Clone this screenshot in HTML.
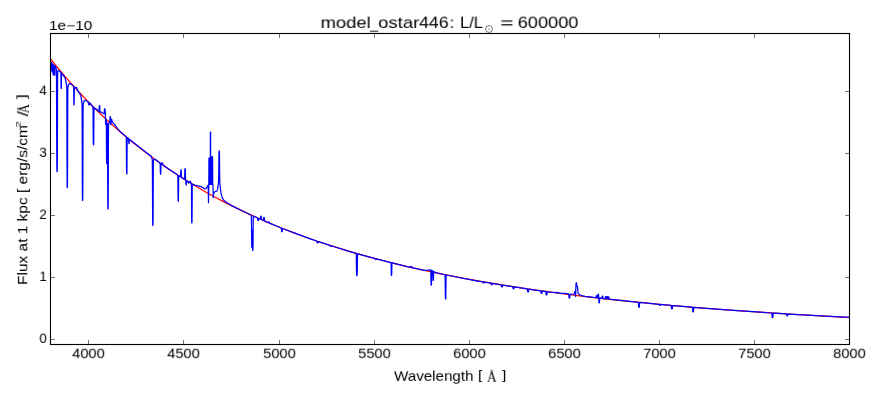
<!DOCTYPE html>
<html lang="en"><head><meta charset="utf-8"><title>model_ostar446</title>
<style>
html,body{margin:0;padding:0;background:#fff}
#fig{position:relative;width:880px;height:400px;overflow:hidden;background:#fff;color:#000;font-family:"Liberation Sans",sans-serif}
#fig svg{position:absolute;left:0;top:0}
.t{position:absolute;white-space:nowrap;transform-origin:0 0;margin:0;padding:0;will-change:transform}
.s{font-family:"Liberation Serif",serif}
</style></head><body>
<div id="fig">
<svg width="880" height="400" viewBox="0 0 880 400">
<svg x="50.5" y="33.5" width="799.0" height="311.0" viewBox="50.5 33.5 799.0 311.0" overflow="hidden">
<g fill="none" stroke-linejoin="round" stroke-linecap="butt">
<path d="M50.50 58.82 L56.40 66.13 L62.40 73.32 L68.50 80.40 L74.75 87.41 L81.10 94.29 L87.60 101.09 L94.25 107.81 L101.05 114.44 L108.00 120.98 L115.10 127.41 L122.35 133.74 L129.75 139.95 L137.35 146.10 L145.10 152.12 L153.05 158.06 L161.20 163.90 L169.55 169.65 L178.10 175.29 L186.90 180.86 L195.90 186.31 L205.15 191.67 L214.65 196.93 L224.40 202.09 L234.45 207.17 L244.80 212.15 L255.45 217.03 L266.40 221.81 L277.70 226.50 L289.35 231.10 L301.35 235.58 L313.75 239.98 L326.55 244.27 L339.80 248.47 L353.50 252.57 L367.70 256.58 L382.45 260.50 L397.75 264.32 L413.65 268.05 L430.15 271.67 L447.35 275.21 L465.25 278.64 L483.95 281.98 L503.50 285.23 L523.95 288.39 L545.35 291.44 L567.80 294.40 L591.40 297.27 L616.25 300.04 L642.45 302.71 L670.10 305.29 L699.40 307.77 L730.50 310.16 L763.55 312.45 L798.80 314.65 L836.55 316.76 L849.50 317.42" stroke="#ff0000" stroke-width="1.25"/>
<path d="M50.50 61.60 L50.55 62.48 L50.60 64.67 L50.65 67.35 L50.70 69.50 L50.75 70.31 L50.80 69.52 L50.85 67.44 L50.90 64.90 L50.95 62.88 L51.00 62.14 L51.05 62.98 L51.10 65.05 L51.15 67.58 L51.20 69.61 L51.25 70.38 L51.30 69.63 L51.35 67.68 L51.40 65.28 L51.45 63.38 L51.50 62.69 L51.55 63.48 L51.60 65.44 L51.65 67.82 L51.70 69.73 L51.75 70.46 L51.80 69.76 L51.85 67.92 L51.90 65.68 L51.95 63.89 L52.00 63.25 L52.05 64.14 L52.10 66.35 L52.15 69.05 L52.20 71.22 L52.25 72.04 L52.30 71.25 L52.35 69.15 L52.40 66.59 L52.45 64.55 L52.50 63.81 L52.55 64.66 L52.60 66.75 L52.65 69.31 L52.70 71.36 L52.75 72.14 L52.80 71.38 L52.85 69.41 L52.90 67.00 L52.95 65.08 L53.00 64.38 L53.05 65.42 L53.10 68.03 L53.15 71.21 L53.20 73.76 L53.25 74.74 L53.30 73.79 L53.35 71.31 L53.40 68.27 L53.45 65.84 L53.50 64.96 L53.55 65.95 L53.60 68.44 L53.65 71.48 L53.70 73.92 L53.75 74.85 L53.80 73.95 L53.85 71.59 L53.90 68.69 L53.95 66.38 L54.00 65.54 L54.05 66.49 L54.10 68.86 L54.15 71.76 L54.20 74.08 L54.25 74.97 L54.30 74.11 L54.35 71.87 L54.40 69.12 L54.45 66.93 L54.50 66.14 L54.55 67.04 L54.60 69.30 L54.65 72.05 L54.70 74.26 L54.75 75.11 L54.80 74.30 L54.85 72.18 L54.90 69.58 L54.95 65.53 L55.60 66.68 L55.95 67.51 L56.20 68.35 L56.30 68.81 L56.35 69.24 L56.40 70.36 L56.45 73.27 L56.50 79.57 L56.55 90.40 L56.60 105.34 L56.65 122.28 L56.70 138.44 L56.75 151.64 L56.80 160.98 L56.85 166.70 L56.90 169.70 L56.95 171.02 L57.00 171.51 L57.05 171.71 L57.10 171.80 L57.15 171.59 L57.20 170.53 L57.25 167.76 L57.30 162.23 L57.35 153.06 L57.40 139.99 L57.45 123.95 L57.50 107.11 L57.55 92.27 L57.60 81.52 L57.65 75.29 L57.70 72.46 L57.75 71.43 L57.80 71.08 L57.95 70.69 L58.20 70.43 L58.55 70.44 L59.20 70.90 L60.80 72.50 L60.85 72.59 L60.90 73.20 L60.95 75.87 L61.00 80.88 L61.05 85.48 L61.10 87.80 L61.15 88.43 L61.25 88.54 L61.30 88.01 L61.35 85.80 L61.40 81.31 L61.45 76.41 L61.50 73.84 L61.55 73.34 L62.80 74.73 L63.90 76.18 L64.60 77.34 L65.10 78.41 L65.45 79.38 L65.75 80.45 L66.00 81.56 L66.25 82.95 L66.50 84.60 L66.65 85.68 L66.70 86.14 L66.75 87.20 L66.80 90.46 L66.85 98.56 L66.90 113.14 L66.95 132.56 L67.00 152.41 L67.05 168.50 L67.10 179.05 L67.15 184.59 L67.20 186.81 L67.25 187.42 L67.30 187.53 L67.35 187.54 L67.40 187.06 L67.45 184.96 L67.50 179.54 L67.55 169.12 L67.60 153.15 L67.65 133.42 L67.70 114.13 L67.75 99.66 L67.80 91.69 L67.85 88.56 L67.90 87.62 L67.95 87.28 L68.25 85.90 L68.50 84.99 L68.75 84.35 L69.05 83.88 L69.45 83.59 L69.95 83.58 L70.70 83.91 L71.90 84.83 L73.55 86.42 L73.60 86.50 L73.65 86.97 L73.70 89.03 L73.75 93.50 L73.80 98.78 L73.85 102.55 L73.90 104.26 L73.95 104.72 L74.05 104.83 L74.10 104.47 L74.15 102.87 L74.20 99.19 L74.25 94.02 L74.30 89.65 L74.35 87.70 L74.40 87.33 L75.10 87.90 L75.45 87.95 L75.80 87.70 L76.20 87.31 L76.40 87.31 L76.60 87.54 L76.85 88.13 L77.45 90.05 L77.80 90.89 L78.30 91.69 L79.50 93.37 L80.15 94.53 L80.60 95.60 L80.90 96.53 L81.15 97.53 L81.40 98.79 L81.60 100.06 L81.85 101.95 L81.95 102.80 L82.00 103.32 L82.05 104.41 L82.10 107.59 L82.15 115.37 L82.20 129.33 L82.25 147.87 L82.30 166.82 L82.35 182.19 L82.40 192.28 L82.45 197.60 L82.50 199.76 L82.55 200.36 L82.60 200.48 L82.65 200.49 L82.70 200.02 L82.75 198.00 L82.80 192.81 L82.85 182.86 L82.90 167.62 L82.95 148.80 L83.00 130.39 L83.05 116.57 L83.10 108.92 L83.15 105.87 L83.20 104.91 L83.25 104.52 L83.50 103.13 L83.70 102.25 L83.95 101.45 L84.20 100.94 L84.55 100.54 L85.00 100.38 L85.70 100.49 L86.75 101.03 L88.10 102.05 L88.25 102.33 L88.35 102.73 L88.55 103.87 L88.65 104.29 L88.80 104.62 L89.20 104.98 L89.35 104.92 L89.45 104.68 L89.75 103.51 L89.90 103.12 L90.05 103.03 L90.45 103.41 L90.60 103.77 L90.80 104.43 L91.05 104.75 L92.85 106.50 L92.90 106.59 L92.95 106.91 L93.00 108.07 L93.05 111.08 L93.10 116.58 L93.15 123.93 L93.20 131.45 L93.25 137.55 L93.30 141.54 L93.35 143.63 L93.40 144.47 L93.45 144.70 L93.55 144.80 L93.60 144.66 L93.65 143.92 L93.70 141.93 L93.75 138.04 L93.80 132.03 L93.85 124.60 L93.90 117.35 L93.95 111.95 L94.00 109.03 L94.05 107.97 L94.10 107.75 L95.30 108.66 L96.75 109.31 L97.35 109.88 L98.50 111.32 L98.95 111.71 L99.00 111.71 L99.05 111.60 L99.10 111.13 L99.15 110.13 L99.25 107.40 L99.30 106.42 L99.35 105.89 L99.40 105.68 L99.55 105.68 L99.60 105.74 L99.65 105.96 L99.70 106.52 L99.75 107.53 L99.85 110.32 L99.90 111.35 L99.95 111.85 L100.00 112.00 L101.35 112.07 L102.00 112.39 L103.05 113.24 L103.85 113.60 L104.05 113.78 L104.10 113.78 L104.15 113.68 L104.20 113.43 L104.25 113.00 L104.30 112.39 L104.45 110.13 L104.50 109.53 L104.55 109.10 L104.60 108.85 L104.65 108.74 L104.70 108.76 L104.85 109.16 L105.05 109.86 L105.15 110.41 L105.20 110.83 L105.25 111.39 L105.30 112.12 L105.35 113.02 L105.40 114.24 L105.45 116.30 L105.50 119.20 L105.55 121.80 L105.60 123.33 L105.65 124.01 L105.70 124.32 L105.75 124.50 L105.80 124.42 L105.85 123.66 L105.90 122.02 L105.95 120.22 L106.00 119.31 L106.05 119.20 L106.20 119.51 L106.25 119.78 L106.30 120.89 L106.35 124.37 L106.40 131.42 L106.45 141.07 L106.50 150.50 L106.55 157.40 L106.60 161.25 L106.65 162.86 L106.70 163.35 L106.80 163.65 L106.85 163.47 L106.90 162.17 L106.95 158.63 L107.00 152.04 L107.05 142.94 L107.10 133.63 L107.15 126.91 L107.20 123.79 L107.25 123.04 L107.30 123.13 L107.35 123.40 L107.40 123.77 L107.45 124.65 L107.50 127.38 L107.55 134.19 L107.60 146.46 L107.65 162.79 L107.70 179.50 L107.75 193.05 L107.80 201.92 L107.85 206.59 L107.90 208.47 L107.95 208.97 L108.00 209.05 L108.05 209.02 L108.10 208.58 L108.15 206.76 L108.20 202.15 L108.25 193.33 L108.30 179.84 L108.35 163.20 L108.40 146.92 L108.45 134.71 L108.50 127.96 L108.55 125.28 L108.60 124.46 L108.65 124.15 L108.90 123.19 L109.15 122.52 L109.45 122.05 L109.75 121.75 L109.80 121.58 L109.85 121.16 L109.90 120.41 L110.00 118.42 L110.05 117.60 L110.10 117.07 L110.15 116.79 L110.20 116.67 L110.40 116.66 L110.45 116.77 L110.50 117.05 L110.55 117.78 L110.60 119.48 L110.65 121.77 L110.70 123.52 L110.75 124.37 L110.80 124.62 L110.85 124.53 L110.90 124.06 L110.95 122.94 L111.00 121.32 L111.05 120.15 L111.10 119.72 L111.20 119.43 L111.35 119.34 L111.70 119.50 L111.80 119.68 L111.90 120.03 L112.00 120.61 L112.15 121.61 L112.25 122.07 L112.35 122.30 L113.55 123.35 L114.70 124.71 L117.70 128.81 L119.20 130.57 L121.10 132.42 L125.15 135.84 L126.20 136.70 L126.25 136.88 L126.30 137.79 L126.35 140.73 L126.40 146.76 L126.45 155.01 L126.50 163.08 L126.55 168.96 L126.60 172.21 L126.65 173.52 L126.70 173.86 L126.80 173.94 L126.85 173.68 L126.90 172.45 L126.95 169.28 L127.00 163.48 L127.05 155.50 L127.10 147.32 L127.15 141.38 L127.20 138.52 L127.25 137.69 L127.30 137.59 L128.55 138.60 L128.60 138.79 L128.65 139.33 L128.70 140.33 L128.75 141.53 L128.80 142.53 L128.85 143.13 L128.90 143.40 L129.05 143.57 L129.10 143.56 L129.15 143.37 L129.20 142.84 L129.25 141.93 L129.30 140.81 L129.35 139.89 L129.40 139.43 L129.45 139.32 L149.70 155.22 L150.65 156.05 L150.80 155.95 L150.95 155.75 L151.10 155.79 L151.40 156.23 L151.55 156.64 L151.85 157.99 L152.10 158.93 L152.20 159.41 L152.25 159.74 L152.30 160.46 L152.35 162.60 L152.40 167.85 L152.45 177.26 L152.50 189.75 L152.55 202.54 L152.60 212.92 L152.65 219.76 L152.70 223.39 L152.75 224.88 L152.80 225.32 L152.85 225.40 L152.90 225.39 L152.95 225.04 L153.00 223.62 L153.05 220.07 L153.10 213.30 L153.15 202.99 L153.20 190.29 L153.25 177.87 L153.30 168.54 L153.35 163.37 L153.40 161.30 L153.45 160.65 L153.55 160.23 L153.75 159.72 L154.00 159.37 L154.35 159.23 L154.95 159.38 L156.45 160.33 L160.05 162.94 L160.10 163.02 L160.15 163.31 L160.20 164.20 L160.25 165.99 L160.35 170.81 L160.40 172.56 L160.45 173.53 L160.50 173.94 L160.55 174.07 L160.65 174.14 L160.70 174.09 L160.75 173.75 L160.80 172.85 L160.85 171.17 L160.95 166.49 L161.00 164.78 L161.05 163.96 L161.10 163.74 L161.45 163.89 L161.55 163.79 L161.85 162.93 L162.00 162.79 L162.45 163.09 L162.60 163.35 L162.75 163.91 L162.95 164.79 L163.10 165.10 L169.70 169.71 L177.70 175.02 L177.75 175.15 L177.80 175.79 L177.85 177.86 L177.90 182.10 L177.95 187.91 L178.00 193.58 L178.05 197.72 L178.10 200.01 L178.15 200.93 L178.20 201.18 L178.30 201.24 L178.35 201.06 L178.40 200.20 L178.45 197.98 L178.50 193.90 L178.55 188.29 L178.60 182.55 L178.65 178.38 L178.70 176.37 L178.75 175.80 L178.80 175.73 L180.40 176.74 L180.45 176.72 L180.50 176.53 L180.55 175.99 L180.60 174.96 L180.70 172.16 L180.75 171.02 L180.80 170.29 L180.85 169.92 L180.90 169.80 L181.10 169.93 L181.15 170.11 L181.20 170.54 L181.25 171.34 L181.30 172.54 L181.40 175.47 L181.45 176.56 L181.50 177.17 L181.55 177.42 L181.75 177.60 L184.50 179.32 L184.55 179.27 L184.60 178.98 L184.65 178.14 L184.70 176.58 L184.80 172.33 L184.85 170.59 L184.90 169.47 L184.95 168.90 L185.00 168.70 L185.15 168.74 L185.20 168.83 L185.25 169.09 L185.30 169.72 L185.35 170.90 L185.40 172.70 L185.50 177.08 L185.55 178.70 L185.60 179.60 L185.65 179.96 L185.80 180.27 L185.85 180.65 L185.90 181.41 L186.00 183.46 L186.05 184.21 L186.10 184.63 L186.15 184.82 L186.35 184.94 L186.40 184.82 L186.45 184.46 L186.50 183.77 L186.60 181.85 L186.65 181.15 L186.70 180.82 L186.75 180.75 L187.90 181.47 L188.00 181.70 L188.20 182.43 L188.35 182.69 L188.70 182.88 L188.85 182.69 L189.05 182.23 L189.25 182.25 L189.65 182.43 L189.75 182.23 L189.95 181.44 L190.05 181.28 L190.35 181.40 L190.50 181.62 L190.60 182.01 L190.75 182.81 L190.85 183.12 L191.30 183.44 L191.35 183.62 L191.40 184.57 L191.45 187.69 L191.50 194.07 L191.55 202.83 L191.60 211.39 L191.65 217.63 L191.70 221.07 L191.75 222.45 L191.80 222.80 L191.90 222.85 L191.95 222.56 L192.00 221.23 L192.05 217.85 L192.10 211.66 L192.15 203.16 L192.20 194.45 L192.25 188.11 L192.30 185.05 L192.35 184.16 L192.40 184.03 L194.75 185.06 L196.85 185.66 L200.10 186.35 L201.60 186.93 L203.10 187.84 L204.55 188.81 L205.15 188.98 L205.65 188.86 L206.10 188.47 L206.60 187.72 L207.55 185.94 L207.90 185.49 L208.20 185.33 L208.50 202.75 L208.80 185.00 L208.95 158.00 L209.15 184.30 L209.35 158.00 L209.55 184.30 L209.75 158.00 L209.95 184.30 L210.15 158.00 L210.30 174.67 L210.35 164.91 L210.40 132.20 L210.60 132.20 L210.65 164.91 L210.70 180.36 L210.75 184.30 L210.95 156.80 L211.15 184.30 L211.35 156.80 L211.55 184.30 L211.75 156.80 L211.95 184.30 L212.15 156.80 L212.35 184.30 L212.55 156.80 L212.75 184.30 L213.00 186.00 L213.25 197.75 L213.55 193.49 L214.75 191.87 L215.25 191.46 L215.85 191.32 L216.50 191.25 L216.85 190.99 L217.10 190.58 L217.35 189.92 L217.55 189.18 L217.75 188.20 L217.95 186.97 L218.15 185.51 L218.45 182.99 L218.55 182.05 L218.60 181.34 L218.65 179.97 L218.70 177.42 L218.75 173.40 L218.80 168.27 L218.85 162.90 L218.90 158.23 L218.95 154.79 L219.00 152.63 L219.05 151.50 L219.10 151.03 L219.15 150.89 L219.25 150.96 L219.30 151.16 L219.35 151.70 L219.40 152.90 L219.45 155.13 L219.50 158.64 L219.55 163.38 L219.60 168.82 L219.65 174.02 L219.70 178.12 L219.75 180.74 L219.80 182.18 L219.85 182.97 L220.00 184.57 L220.30 187.54 L220.55 189.73 L220.75 191.24 L221.00 192.83 L221.25 194.15 L221.55 195.43 L221.90 196.61 L222.30 197.67 L222.80 198.68 L223.50 199.74 L224.45 200.82 L225.85 202.01 L228.10 203.51 L232.25 205.85 L240.00 209.78 L250.90 214.94 L251.20 215.09 L251.25 215.17 L251.30 215.42 L251.35 216.13 L251.40 217.72 L251.45 220.55 L251.50 224.66 L251.55 229.61 L251.60 234.68 L251.65 239.17 L251.70 242.64 L251.75 245.00 L251.80 246.39 L251.85 247.08 L251.90 247.36 L252.05 247.48 L252.10 247.45 L252.15 247.22 L252.20 246.57 L252.25 245.23 L252.30 242.92 L252.35 239.50 L252.40 235.23 L252.45 231.33 L252.50 230.21 L252.55 233.37 L252.60 239.33 L252.65 245.02 L252.70 248.61 L252.75 250.15 L252.80 250.53 L252.90 250.56 L252.95 250.17 L253.00 248.45 L253.05 244.22 L253.10 237.01 L253.15 228.28 L253.20 221.08 L253.25 217.32 L253.30 216.22 L253.35 216.07 L257.35 217.89 L257.45 218.10 L257.55 218.60 L257.70 219.63 L257.80 220.11 L257.90 220.35 L258.25 220.54 L258.35 220.48 L258.45 220.22 L258.55 219.70 L258.70 218.85 L258.80 218.58 L259.00 218.59 L260.35 219.14 L260.40 219.08 L260.45 218.90 L260.50 218.57 L260.65 217.05 L260.70 216.65 L260.75 216.37 L260.80 216.21 L260.90 216.13 L261.15 216.27 L261.20 216.38 L261.25 216.58 L261.30 216.91 L261.35 217.36 L261.50 219.00 L261.55 219.38 L261.60 219.60 L261.70 219.76 L263.35 220.45 L263.40 220.38 L263.45 220.19 L263.50 219.85 L263.65 218.29 L263.70 217.87 L263.75 217.58 L263.80 217.42 L263.90 217.33 L264.15 217.48 L264.20 217.59 L264.25 217.80 L264.30 218.13 L264.35 218.59 L264.50 220.28 L264.55 220.67 L264.60 220.90 L264.70 221.06 L268.15 222.51 L268.30 222.32 L268.45 222.02 L268.60 221.94 L268.95 222.11 L269.10 222.39 L269.30 222.95 L269.55 223.13 L281.25 227.96 L281.30 228.07 L281.35 228.31 L281.40 228.72 L281.55 230.50 L281.60 230.99 L281.65 231.34 L281.70 231.56 L281.80 231.73 L282.05 231.79 L282.10 231.71 L282.15 231.54 L282.20 231.23 L282.25 230.78 L282.40 229.12 L282.45 228.75 L282.50 228.55 L282.60 228.46 L296.90 233.94 L311.05 239.04 L316.65 240.99 L316.80 241.25 L317.10 242.42 L317.25 242.72 L317.70 242.90 L317.85 242.79 L318.00 242.40 L318.20 241.73 L318.35 241.57 L329.80 245.35 L330.00 245.63 L330.25 246.08 L330.60 246.28 L330.95 246.31 L331.35 245.87 L332.00 246.02 L347.55 250.82 L356.05 253.33 L356.10 253.40 L356.15 253.63 L356.20 254.18 L356.25 255.29 L356.30 257.14 L356.35 259.72 L356.40 262.80 L356.45 266.02 L356.50 268.98 L356.55 271.41 L356.60 273.20 L356.65 274.38 L356.70 275.06 L356.75 275.40 L356.80 275.54 L357.00 275.60 L357.05 275.49 L357.10 275.18 L357.15 274.52 L357.20 273.38 L357.25 271.62 L357.30 269.21 L357.35 266.28 L357.40 263.09 L357.45 260.03 L357.50 257.48 L357.55 255.67 L357.60 254.58 L357.65 254.06 L357.70 253.86 L357.85 253.82 L374.55 258.43 L374.85 258.57 L375.05 258.95 L375.25 259.32 L375.55 259.49 L375.90 259.54 L376.10 259.33 L376.30 259.01 L376.50 258.95 L390.95 262.66 L391.00 262.72 L391.05 263.03 L391.10 264.03 L391.15 266.10 L391.25 271.69 L391.30 273.70 L391.35 274.82 L391.40 275.26 L391.45 275.38 L391.55 275.40 L391.60 275.31 L391.65 274.89 L391.70 273.80 L391.75 271.81 L391.85 266.27 L391.90 264.23 L391.95 263.25 L392.00 262.97 L392.25 262.97 L410.25 267.27 L410.50 267.23 L410.65 266.94 L410.85 266.43 L411.00 266.28 L411.50 266.39 L411.65 266.61 L411.95 267.48 L412.10 267.68 L423.35 270.18 L425.35 270.41 L426.90 270.30 L429.45 269.78 L430.50 269.85 L430.65 269.90 L430.70 270.02 L430.75 270.47 L430.80 271.67 L430.85 273.86 L430.95 279.78 L431.00 282.21 L431.05 283.80 L431.10 284.63 L431.15 284.96 L431.25 285.08 L431.35 285.05 L431.40 284.76 L431.45 283.97 L431.50 282.42 L431.55 280.03 L431.65 274.20 L431.70 272.05 L431.75 270.90 L431.80 270.49 L431.85 270.41 L432.70 270.92 L432.75 270.99 L432.80 271.24 L432.85 272.00 L432.90 273.52 L433.00 277.64 L433.05 279.13 L433.10 279.96 L433.15 280.31 L433.25 280.46 L433.35 280.45 L433.40 280.16 L433.45 279.40 L433.50 277.97 L433.60 273.99 L433.65 272.53 L433.70 271.84 L433.75 271.65 L435.60 272.58 L437.60 273.20 L445.00 274.76 L445.05 274.95 L445.10 275.67 L445.15 277.58 L445.20 281.08 L445.25 285.78 L445.30 290.59 L445.35 294.48 L445.40 297.02 L445.45 298.34 L445.50 298.85 L445.55 298.98 L445.65 299.00 L445.70 298.89 L445.75 298.40 L445.80 297.10 L445.85 294.58 L445.90 290.71 L445.95 285.92 L446.00 281.24 L446.05 277.76 L446.10 275.87 L446.15 275.17 L446.20 275.00 L470.05 279.52 L475.50 280.54 L475.95 281.05 L476.55 281.16 L476.85 280.92 L477.10 280.79 L482.70 281.80 L482.85 282.03 L483.10 282.65 L483.30 282.86 L483.75 282.92 L483.90 282.79 L484.20 282.17 L484.40 282.06 L490.75 283.16 L490.90 283.38 L491.20 284.44 L491.35 284.69 L491.80 284.80 L491.95 284.67 L492.10 284.28 L492.30 283.62 L492.45 283.45 L501.05 284.87 L501.15 285.01 L501.25 285.35 L501.45 286.34 L501.55 286.69 L501.70 286.92 L502.10 286.98 L502.25 286.80 L502.35 286.49 L502.55 285.56 L502.65 285.25 L502.80 285.13 L512.65 286.70 L512.75 286.84 L512.85 287.18 L513.05 288.17 L513.15 288.52 L513.30 288.75 L513.70 288.81 L513.85 288.63 L513.95 288.31 L514.15 287.38 L514.25 287.08 L514.40 286.95 L527.20 288.88 L527.30 288.99 L527.40 289.33 L527.50 289.97 L527.65 291.09 L527.75 291.60 L527.85 291.86 L528.05 291.98 L528.30 291.98 L528.40 291.85 L528.50 291.49 L528.60 290.88 L528.75 289.81 L528.85 289.34 L528.95 289.16 L530.30 289.31 L540.65 290.82 L540.75 290.99 L540.85 291.41 L541.05 292.64 L541.15 293.07 L541.25 293.29 L541.50 293.40 L541.75 293.36 L541.85 293.16 L541.95 292.76 L542.15 291.59 L542.25 291.20 L542.35 291.05 L545.60 291.48 L545.70 291.60 L545.75 291.74 L545.80 291.97 L545.90 292.67 L546.05 293.90 L546.15 294.46 L546.25 294.75 L546.45 294.88 L546.70 294.87 L546.80 294.72 L546.90 294.33 L547.00 293.65 L547.15 292.46 L547.20 292.16 L547.25 291.95 L547.35 291.75 L548.10 291.80 L555.70 292.75 L555.95 292.56 L556.20 292.36 L556.80 292.42 L557.10 292.74 L557.35 292.93 L557.75 292.93 L558.20 292.54 L558.80 292.58 L559.10 292.89 L559.35 293.08 L564.95 293.44 L568.60 293.98 L568.70 294.14 L568.75 294.34 L568.80 294.68 L568.85 295.15 L569.00 296.85 L569.05 297.30 L569.10 297.63 L569.15 297.84 L569.25 298.04 L569.55 298.08 L569.65 297.91 L569.70 297.71 L569.75 297.39 L569.80 296.96 L569.95 295.30 L570.00 294.85 L570.05 294.52 L570.10 294.33 L570.20 294.20 L572.25 294.25 L573.40 294.03 L573.95 293.76 L574.10 293.55 L574.30 292.96 L574.55 292.20 L574.80 291.79 L575.25 291.22 L575.30 291.48 L575.35 292.85 L575.40 294.89 L575.45 296.17 L575.50 296.52 L575.60 296.55 L575.65 296.15 L575.70 294.63 L575.75 291.99 L575.80 289.57 L575.85 287.91 L575.90 286.46 L575.95 285.19 L576.00 284.25 L576.05 283.65 L576.10 283.31 L576.20 283.07 L576.40 282.70 L576.45 282.66 L576.50 282.78 L576.55 283.14 L576.60 283.78 L576.70 285.37 L576.75 285.90 L576.80 286.12 L576.90 286.02 L577.00 285.94 L577.20 286.18 L577.40 286.58 L577.50 286.99 L577.55 287.30 L577.60 287.72 L577.65 288.25 L577.75 289.58 L577.85 291.02 L577.90 291.66 L577.95 292.18 L578.00 292.57 L578.05 292.84 L578.15 293.15 L578.65 293.87 L579.35 294.56 L580.30 295.15 L581.85 295.70 L584.90 296.32 L593.75 297.49 L595.75 297.70 L595.85 297.56 L595.95 297.15 L596.10 296.29 L596.20 295.91 L596.30 295.74 L596.65 295.75 L596.75 295.86 L596.85 296.15 L596.95 296.67 L597.10 297.53 L597.20 297.82 L597.45 297.93 L597.60 297.91 L597.65 297.81 L597.70 297.59 L597.75 297.18 L597.85 295.99 L597.90 295.38 L597.95 294.89 L598.00 294.55 L598.05 294.35 L598.15 294.22 L598.40 294.29 L598.45 294.40 L598.50 294.61 L598.55 294.96 L598.60 295.47 L598.65 296.12 L598.70 296.91 L598.75 297.85 L598.85 300.11 L598.90 301.17 L598.95 301.97 L599.00 302.48 L599.05 302.74 L599.15 302.88 L599.30 302.87 L599.35 302.78 L599.40 302.53 L599.45 302.03 L599.50 301.28 L599.60 299.42 L599.65 298.74 L599.70 298.37 L599.75 298.24 L601.75 298.40 L601.85 298.23 L601.95 297.76 L602.10 296.78 L602.20 296.33 L602.30 296.14 L602.65 296.15 L602.75 296.27 L602.85 296.60 L602.95 297.19 L603.05 297.89 L603.15 298.38 L603.25 298.57 L605.05 298.77 L605.15 298.60 L605.25 298.14 L605.40 297.15 L605.50 296.70 L605.60 296.51 L605.95 296.52 L606.05 296.64 L606.15 296.97 L606.25 297.56 L606.35 298.26 L606.40 298.53 L606.45 298.72 L606.50 298.78 L606.55 298.73 L606.60 298.56 L606.70 297.96 L606.80 297.30 L606.90 296.86 L607.00 296.67 L607.35 296.67 L607.45 296.79 L607.55 297.12 L607.65 297.72 L607.75 298.38 L607.80 298.61 L607.85 298.69 L607.90 298.62 L607.95 298.40 L608.10 297.45 L608.20 297.00 L608.30 296.81 L608.65 296.82 L608.75 296.94 L608.85 297.27 L608.95 297.86 L609.05 298.56 L609.15 299.05 L609.25 299.24 L629.85 301.45 L638.20 302.31 L638.30 302.49 L638.35 302.74 L638.40 303.16 L638.45 303.75 L638.60 305.86 L638.65 306.41 L638.70 306.82 L638.75 307.09 L638.85 307.32 L639.15 307.35 L639.25 307.13 L639.30 306.88 L639.35 306.48 L639.40 305.93 L639.55 303.86 L639.60 303.28 L639.65 302.87 L639.70 302.63 L639.80 302.47 L658.95 304.31 L659.10 304.53 L659.35 305.13 L659.55 305.32 L660.00 305.34 L660.15 305.20 L660.45 304.56 L660.65 304.44 L671.00 305.38 L671.10 305.50 L671.15 305.65 L671.20 305.88 L671.30 306.60 L671.45 307.86 L671.55 308.43 L671.65 308.72 L671.85 308.84 L672.10 308.82 L672.20 308.66 L672.30 308.25 L672.40 307.55 L672.55 306.32 L672.60 306.01 L672.65 305.78 L672.75 305.57 L673.45 305.58 L692.30 307.21 L692.40 307.38 L692.45 307.62 L692.50 308.02 L692.55 308.57 L692.70 310.57 L692.75 311.10 L692.80 311.49 L692.85 311.74 L692.95 311.96 L693.25 311.99 L693.35 311.78 L693.40 311.53 L693.45 311.16 L693.50 310.64 L693.65 308.66 L693.70 308.12 L693.75 307.73 L693.80 307.49 L693.90 307.34 L733.35 310.37 L771.70 313.00 L771.80 313.16 L771.85 313.39 L771.90 313.78 L771.95 314.32 L772.10 316.25 L772.15 316.76 L772.20 317.13 L772.25 317.38 L772.35 317.59 L772.65 317.61 L772.75 317.41 L772.80 317.17 L772.85 316.80 L772.90 316.30 L773.05 314.39 L773.10 313.86 L773.15 313.48 L773.20 313.25 L773.30 313.10 L786.50 313.94 L786.60 314.09 L786.70 314.50 L786.85 315.34 L786.95 315.73 L787.05 315.90 L787.40 315.95 L787.50 315.87 L787.60 315.61 L787.75 314.84 L787.85 314.33 L787.95 314.07 L788.20 314.01 L831.15 316.47 L849.50 317.42" stroke="#0000ff" stroke-width="1.25"/>
</g>
</svg>
<path d="M88.50 344.50 v-4.44 M88.50 33.50 v4.44 M183.50 344.50 v-4.44 M183.50 33.50 v4.44 M279.50 344.50 v-4.44 M279.50 33.50 v4.44 M374.50 344.50 v-4.44 M374.50 33.50 v4.44 M469.50 344.50 v-4.44 M469.50 33.50 v4.44 M564.50 344.50 v-4.44 M564.50 33.50 v4.44 M659.50 344.50 v-4.44 M659.50 33.50 v4.44 M754.50 344.50 v-4.44 M754.50 33.50 v4.44 M849.50 344.50 v-4.44 M849.50 33.50 v4.44 M50.50 339.50 h4.44 M849.50 339.50 h-4.44 M50.50 277.50 h4.44 M849.50 277.50 h-4.44 M50.50 215.50 h4.44 M849.50 215.50 h-4.44 M50.50 153.50 h4.44 M849.50 153.50 h-4.44 M50.50 91.50 h4.44 M849.50 91.50 h-4.44" stroke="#000" stroke-width="0.56" fill="none"/>
<rect x="50.5" y="33.5" width="799.0" height="311.0" fill="none" stroke="#000" stroke-width="1.11"/>
<circle cx="489.0" cy="29.0" r="3.45" fill="none" stroke="#000" stroke-width="0.55"/><circle cx="489.0" cy="29.0" r="0.6" fill="#000"/>
</svg>
<div class="t " style="left:320px;top:14px;font-size:17px;line-height:17px;transform:translate(0.59px,0.70px) scale(1.084,0.95)">model</div>
<div class="t " style="left:370px;top:15px;font-size:17px;line-height:17px;transform:translate(0.20px,0.44px) scale(0.83,0.95)">_</div>
<div class="t " style="left:378px;top:14px;font-size:17px;line-height:17px;transform:translate(0.18px,0.70px) scale(1.088,0.95)">ostar</div>
<div class="t " style="left:419px;top:14px;font-size:17px;line-height:17px;transform:translate(0.10px,0.70px) scale(1.039,0.95)">446</div>
<div class="t " style="left:449px;top:14px;font-size:17px;line-height:17px;transform:translate(0.60px,0.70px) scale(1.0,0.95)">:</div>
<div class="t " style="left:460px;top:14px;font-size:17px;line-height:17px;transform:translate(0.00px,0.70px) scale(0.966,0.95)">L/L</div>
<div class="t " style="left:500px;top:14px;font-size:17px;line-height:17px;transform:translate(0.35px,0.70px) scale(1.33,0.95)">=</div>
<div class="t " style="left:517px;top:14px;font-size:17px;line-height:17px;transform:translate(0.70px,0.70px) scale(1.068,0.95)">600000</div>
<div class="t " style="left:48px;top:19px;font-size:14px;line-height:14px;transform:translate(0.90px,0.10px) scale(1.105,0.9)">1e−10</div>
<div class="t " style="left:72px;top:346px;font-size:14px;line-height:14px;transform:translate(0.15px,0.82px) scale(1.05,0.94)">4000</div>
<div class="t " style="left:167px;top:346px;font-size:14px;line-height:14px;transform:translate(0.15px,0.82px) scale(1.05,0.94)">4500</div>
<div class="t " style="left:263px;top:346px;font-size:14px;line-height:14px;transform:translate(0.15px,0.82px) scale(1.05,0.94)">5000</div>
<div class="t " style="left:358px;top:346px;font-size:14px;line-height:14px;transform:translate(0.15px,0.82px) scale(1.05,0.94)">5500</div>
<div class="t " style="left:453px;top:346px;font-size:14px;line-height:14px;transform:translate(0.15px,0.82px) scale(1.05,0.94)">6000</div>
<div class="t " style="left:548px;top:346px;font-size:14px;line-height:14px;transform:translate(0.15px,0.82px) scale(1.05,0.94)">6500</div>
<div class="t " style="left:643px;top:346px;font-size:14px;line-height:14px;transform:translate(0.15px,0.82px) scale(1.05,0.94)">7000</div>
<div class="t " style="left:738px;top:346px;font-size:14px;line-height:14px;transform:translate(0.15px,0.82px) scale(1.05,0.94)">7500</div>
<div class="t " style="left:833px;top:346px;font-size:14px;line-height:14px;transform:translate(0.15px,0.82px) scale(1.05,0.94)">8000</div>
<div class="t " style="left:39px;top:331px;font-size:14px;line-height:14px;transform:translate(0.35px,0.72px) scale(0.96,0.94)">0</div>
<div class="t " style="left:39px;top:269px;font-size:14px;line-height:14px;transform:translate(0.35px,0.72px) scale(0.96,0.94)">1</div>
<div class="t " style="left:39px;top:207px;font-size:14px;line-height:14px;transform:translate(0.35px,0.72px) scale(0.96,0.94)">2</div>
<div class="t " style="left:39px;top:145px;font-size:14px;line-height:14px;transform:translate(0.35px,0.72px) scale(0.96,0.94)">3</div>
<div class="t " style="left:39px;top:83px;font-size:14px;line-height:14px;transform:translate(0.35px,0.72px) scale(0.96,0.94)">4</div>
<div class="t " style="left:394px;top:369px;font-size:14px;line-height:14px;transform:translate(0.10px,0.47px) scale(1.081,0.94)">Wavelength</div>
<div class="t " style="left:477px;top:369px;font-size:14px;line-height:14px;transform:translate(0.90px,0.30px) scale(1.13,0.854)">[</div>
<div class="t s" style="left:486px;top:370px;font-size:14px;line-height:14px;transform:translate(0.90px,0.77px) scale(0.96,1.013)">Å</div>
<div class="t " style="left:501px;top:369px;font-size:14px;line-height:14px;transform:translate(0.90px,0.30px) scale(1.13,0.854)">]</div>
<div class="t " style="left:16px;top:285px;font-size:14px;line-height:14px;transform:translate(0.00px,0.00px) rotate(-90deg) scale(1.105,0.94)">Flux at 1 kpc [ erg/s/cm</div>
<div class="t " style="left:15px;top:127px;font-size:8px;line-height:8px;transform:translate(0.04px,0.55px) rotate(-90deg) scale(1.436,0.96)">2</div>
<div class="t " style="left:15px;top:116px;font-size:14px;line-height:14px;transform:translate(0.20px,0.40px) rotate(-90deg) scale(1.35,1.1)">/</div>
<div class="t s" style="left:16px;top:113px;font-size:14px;line-height:14px;transform:translate(0.97px,0.30px) rotate(-90deg) scale(0.91,1.043)">Å</div>
<div class="t " style="left:15px;top:99px;font-size:14px;line-height:14px;transform:translate(0.55px,0.20px) rotate(-90deg) scale(1.3,0.88)">]</div>
</div>
</body></html>
